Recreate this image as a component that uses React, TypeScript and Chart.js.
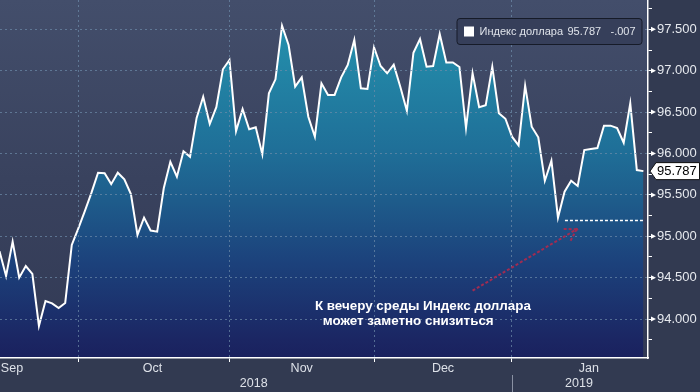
import React, { useEffect, useRef } from "react";
import { Chart, registerables } from "chart.js";
Chart.register(...registerables);

const FONT = "'Liberation Sans', Arial, Helvetica, sans-serif";

// ---- data ----
const seriesName = "Индекс доллара";
const changeText = "-.007";

const dxyValues: number[] = [
  94.82, 94.52, 94.935, 94.5, 94.64, 94.545, 93.917, 94.219, 94.19, 94.134,
  94.195, 94.895, 95.097, 95.306, 95.527, 95.768, 95.761, 95.63, 95.768, 95.688,
  95.51, 95.016, 95.225, 95.07, 95.056, 95.58, 95.9, 95.72, 96.027, 95.96,
  96.43, 96.686, 96.356, 96.56, 97.017, 97.13, 96.27, 96.537, 96.292, 96.316,
  95.99, 96.727, 96.896, 97.543, 97.31, 96.807, 96.92, 96.444, 96.203, 96.848,
  96.707, 96.707, 96.92, 97.069, 97.371, 96.787, 96.779, 97.283, 97.057, 96.969,
  97.072, 96.807, 96.517, 97.217, 97.383, 97.048, 97.057, 97.443, 97.1, 97.1,
  97.045, 96.308, 96.969, 96.558, 96.582, 97.048, 96.486, 96.42, 96.203, 96.099,
  96.819, 96.324, 96.196, 95.671, 95.913, 95.225, 95.539, 95.671, 95.607, 96.042,
  96.054, 96.066, 96.336, 96.336, 96.308, 96.13, 96.606, 95.8, 95.787,
];

const monthBoundaryIdx = [12, 35, 57, 78];
const monthLabels = ["Sep", "Oct", "Nov", "Dec", "Jan"];
const monthLabelIdx = [1.9, 23.3, 46.0, 67.5, 89.7];
const yearLabels = ["2018", "2019"];
const yearLabelIdx = [38.7, 88.2];
const yearSeparatorIdx = [78];
const yMajorTicks = [94, 94.5, 95, 95.5, 96, 96.5, 97, 97.5];
const yMinorTicks = [93.75, 94.25, 94.75, 95.25, 95.75, 96.25, 96.75, 97.25, 97.75];

const annotationLines = ["К вечеру среды Индекс доллара", "может заметно снизиться"];
const annotationPos = [
  [48.0, 94.158],
  [49.19, 93.969],
];
const targetLevel = 95.2;
const targetFromIdx = 86.06;
const targetToIdx = 98.1;
const arrowFrom = [72.0, 94.343];
const arrowTo = [87.84, 95.085];

const X_MIN = 0.076;
const X_MAX = 98.7;
const Y_MIN = 93.53;
const Y_MAX = 97.854;

const isMajor = (v: number) => yMajorTicks.some((t) => Math.abs(t - v) < 1e-6);
const isBoundary = (v: number) => monthBoundaryIdx.some((t) => Math.abs(t - v) < 1e-6);

const bgPlugin = {
  id: "bgPlugin",
  beforeDraw(chart: any) {
    const { ctx, chartArea: a, width, height } = chart;
    ctx.save();
    ctx.fillStyle = "#323a51";
    ctx.fillRect(0, 0, width, height);
    if (a) {
      const g = ctx.createLinearGradient(0, a.top, 0, a.bottom);
      g.addColorStop(0, "#434e6b");
      g.addColorStop(0.5, "#39425e");
      g.addColorStop(1, "#323a55");
      ctx.fillStyle = g;
      ctx.fillRect(a.left, a.top, a.right - a.left, a.bottom - a.top);
    }
    ctx.restore();
  },
};

const overlayPlugin = {
  id: "overlayPlugin",
  afterDraw(chart: any) {
    const { ctx, chartArea: a } = chart;
    const xs = chart.scales.x;
    const ys = chart.scales.y;
    ctx.save();

    // triangles on major y ticks
    ctx.fillStyle = "#ffffff";
    yMajorTicks.forEach((v) => {
      const y = ys.getPixelForValue(v);
      ctx.beginPath();
      ctx.moveTo(a.right + 3, y - 2.5);
      ctx.lineTo(a.right + 8, y);
      ctx.lineTo(a.right + 3, y + 2.5);
      ctx.closePath();
      ctx.fill();
    });

    // target dotted line
    ctx.strokeStyle = "#ffffff";
    ctx.lineWidth = 1.5;
    ctx.setLineDash([3, 2]);
    const ty = Math.round(ys.getPixelForValue(targetLevel)) + 0.5;
    ctx.beginPath();
    ctx.moveTo(xs.getPixelForValue(targetFromIdx), ty);
    ctx.lineTo(xs.getPixelForValue(targetToIdx), ty);
    ctx.stroke();

    // arrow
    const x1 = xs.getPixelForValue(arrowFrom[0]);
    const y1 = ys.getPixelForValue(arrowFrom[1]);
    const x2 = xs.getPixelForValue(arrowTo[0]);
    const y2 = ys.getPixelForValue(arrowTo[1]);
    ctx.strokeStyle = "#a02c52";
    ctx.lineWidth = 2;
    ctx.setLineDash([3, 2]);
    ctx.beginPath();
    ctx.moveTo(x1, y1);
    ctx.lineTo(x2, y2);
    const ang = Math.atan2(y1 - y2, x1 - x2);
    const hl = 13;
    ctx.moveTo(x2, y2);
    ctx.lineTo(x2 + hl * Math.cos(ang - 0.55), y2 + hl * Math.sin(ang - 0.55));
    ctx.moveTo(x2, y2);
    ctx.lineTo(x2 + hl * Math.cos(ang + 0.55), y2 + hl * Math.sin(ang + 0.55));
    ctx.stroke();
    ctx.setLineDash([]);
    ctx.fillStyle = "#a02c52";
    ctx.beginPath();
    ctx.arc(x2, y2, 1.5, 0, Math.PI * 2);
    ctx.fill();

    // annotation text
    ctx.fillStyle = "#ffffff";
    ctx.font = `bold 13.4px ${FONT}`;
    ctx.textBaseline = "middle";
    ctx.textAlign = "left";
    annotationLines.forEach((t, i) => {
      ctx.fillText(t, xs.getPixelForValue(annotationPos[i][0]), ys.getPixelForValue(annotationPos[i][1]));
    });

    // legend box
    const lx = 457, ly = 18.5, lw = 185, lh = 26;
    ctx.beginPath();
    ctx.roundRect(lx, ly, lw, lh, 3);
    ctx.fillStyle = "#363f5a";
    ctx.fill();
    ctx.strokeStyle = "#161b28";
    ctx.lineWidth = 1;
    ctx.stroke();
    ctx.fillStyle = "#ffffff";
    ctx.fillRect(464, 26.5, 10, 10);
    ctx.fillStyle = "#dfe3ea";
    ctx.font = `11px ${FONT}`;
    const last = dxyValues[dxyValues.length - 1];
    ctx.fillText(seriesName, 479.5, 32);
    ctx.fillText(last.toFixed(3), 567.5, 32);
    ctx.fillText(changeText, 610.5, 32);

    // last value tag
    const vy = ys.getPixelForValue(last);
    ctx.beginPath();
    ctx.moveTo(a.right + 2, vy);
    ctx.lineTo(a.right + 8, vy - 8.5);
    ctx.lineTo(699.5, vy - 8.5);
    ctx.lineTo(699.5, vy + 8.5);
    ctx.lineTo(a.right + 8, vy + 8.5);
    ctx.closePath();
    ctx.fillStyle = "#ffffff";
    ctx.fill();
    ctx.strokeStyle = "#111111";
    ctx.lineWidth = 1;
    ctx.stroke();
    ctx.fillStyle = "#000000";
    ctx.font = `13px ${FONT}`;
    ctx.fillText(last.toFixed(3), a.right + 9, vy + 0.5);

    // year labels + separator
    ctx.fillStyle = "#dde1e8";
    ctx.font = `12.5px ${FONT}`;
    ctx.textAlign = "center";
    yearLabels.forEach((t, i) => {
      ctx.fillText(t, xs.getPixelForValue(yearLabelIdx[i]), 383.5);
    });
    ctx.strokeStyle = "#8a91a3";
    ctx.lineWidth = 1;
    yearSeparatorIdx.forEach((v) => {
      const sx = Math.round(xs.getPixelForValue(v)) + 0.5;
      ctx.beginPath();
      ctx.moveTo(sx, 375);
      ctx.lineTo(sx, 392);
      ctx.stroke();
    });

    ctx.restore();
  },
};

export default function App() {
  const ref = useRef<HTMLCanvasElement | null>(null);
  useEffect(() => {
    if (!ref.current) return;
    const points = dxyValues.map((v, i) => ({ x: i, y: v }));
    const chart = new Chart(ref.current, {
      type: "line",
      data: {
        datasets: [
          {
            label: seriesName,
            data: points,
            borderColor: "#ffffff",
            borderWidth: 2,
            pointRadius: 0,
            tension: 0,
            fill: "start",
            backgroundColor: (c: any) => {
              const area = c.chart.chartArea;
              if (!area) return "rgba(0,0,0,0)";
              const g = c.chart.ctx.createLinearGradient(0, area.top, 0, area.bottom);
              g.addColorStop(0, "#2796b3");
              g.addColorStop(0.15, "#2389a8");
              g.addColorStop(0.42, "#1f6f98");
              g.addColorStop(0.56, "#1e5c8b");
              g.addColorStop(0.73, "#1c427c");
              g.addColorStop(0.95, "#1b2663");
              g.addColorStop(1, "#1a215e");
              return g;
            },
          },
        ],
      },
      options: {
        animation: false,
        responsive: false,
        maintainAspectRatio: false,
        devicePixelRatio: 1,
        layout: { padding: 0 },
        plugins: { legend: { display: false }, tooltip: { enabled: false } },
        scales: {
          x: {
            type: "linear",
            min: X_MIN,
            max: X_MAX,
            afterBuildTicks: (s: any) => {
              const vals = [...monthBoundaryIdx, ...monthLabelIdx].sort((p, q) => p - q);
              s.ticks = vals.map((v) => ({ value: v }));
            },
            afterFit: (s: any) => {
              s.height = 34;
              s.paddingLeft = 0;
              s.paddingRight = 0;
            },
            ticks: {
              autoSkip: false,
              maxRotation: 0,
              padding: -1,
              color: "#dde1e8",
              font: { family: FONT, size: 12.5 },
              callback: (v: any) => {
                const k = monthLabelIdx.findIndex((m) => Math.abs(m - v) < 1e-6);
                return k >= 0 ? monthLabels[k] : "";
              },
            },
            grid: {
              z: 1,
              color: (c: any) => (c.tick && isBoundary(c.tick.value) ? "rgba(110,140,170,0.7)" : "rgba(0,0,0,0)"),
              tickColor: (c: any) => (c.tick && isBoundary(c.tick.value) ? "#ffffff" : "rgba(0,0,0,0)"),
              tickLength: 4,
              lineWidth: 1,
            },
            border: { display: true, color: "#ffffff", width: 1.5, dash: [2, 3], z: 2 },
          },
          y: {
            type: "linear",
            position: "right",
            min: Y_MIN,
            max: Y_MAX,
            afterBuildTicks: (s: any) => {
              const vals = [...yMajorTicks, ...yMinorTicks].sort((p, q) => p - q);
              s.ticks = vals.map((v) => ({ value: v }));
            },
            afterFit: (s: any) => {
              s.width = 52;
              s.paddingTop = 0;
              s.paddingBottom = 0;
            },
            ticks: {
              padding: 5,
              color: "#e6e9ee",
              font: { family: FONT, size: 13 },
              callback: (v: any) => (isMajor(v) ? Number(v).toFixed(3) : ""),
            },
            grid: {
              z: 1,
              color: (c: any) => (c.tick && isMajor(c.tick.value) ? "rgba(110,140,170,0.7)" : "rgba(0,0,0,0)"),
              tickColor: "#ffffff",
              tickLength: 4,
              lineWidth: 1,
            },
            border: { display: true, color: "#ffffff", width: 1.5, dash: [2, 3], z: 2 },
          },
        },
      },
      plugins: [bgPlugin, overlayPlugin],
    } as any);
    return () => chart.destroy();
  }, []);

  return (
    <div style={{ position: "absolute", left: 0, top: 0, width: 700, height: 392 }}>
      <canvas ref={ref} width={700} height={392} style={{ display: "block" }} />
    </div>
  );
}
